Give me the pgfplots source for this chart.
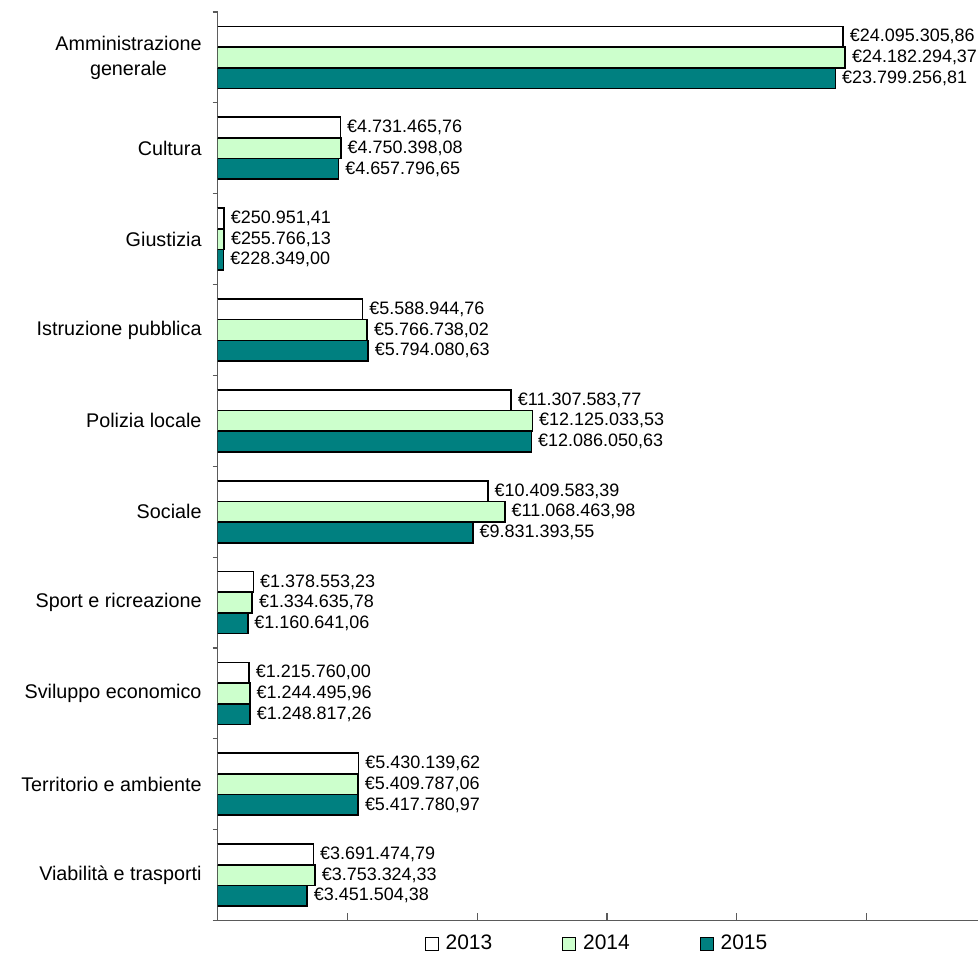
\documentclass[border=0pt]{standalone}
\usepackage{pgfplots}
\usepackage{pgfplotstable}
\usepackage{fontspec}
\setmainfont{Liberation Sans}
\pgfplotsset{compat=1.18}
\definecolor{lgreen}{HTML}{CCFFCC}
\definecolor{tealc}{HTML}{008080}
\definecolor{axgray}{HTML}{5A5A5A}

% y = 9 - category index (Amministrazione generale at top)
\pgfplotstableread{
y x lab
9 24095305.86 24.095.305,86
8 4731465.76 4.731.465,76
7 250951.41 250.951,41
6 5588944.76 5.588.944,76
5 11307583.77 11.307.583,77
4 10409583.39 10.409.583,39
3 1378553.23 1.378.553,23
2 1215760.00 1.215.760,00
1 5430139.62 5.430.139,62
0 3691474.79 3.691.474,79
}\tA
\pgfplotstableread{
y x lab
9 24182294.37 24.182.294,37
8 4750398.08 4.750.398,08
7 255766.13 255.766,13
6 5766738.02 5.766.738,02
5 12125033.53 12.125.033,53
4 11068463.98 11.068.463,98
3 1334635.78 1.334.635,78
2 1244495.96 1.244.495,96
1 5409787.06 5.409.787,06
0 3753324.33 3.753.324,33
}\tB
\pgfplotstableread{
y x lab
9 23799256.81 23.799.256,81
8 4657796.65 4.657.796,65
7 228349.00 228.349,00
6 5794080.63 5.794.080,63
5 12086050.63 12.086.050,63
4 9831393.55 9.831.393,55
3 1160641.06 1.160.641,06
2 1248817.26 1.248.817,26
1 5417780.97 5.417.780,97
0 3451504.38 3.451.504,38
}\tC

\begin{document}
\begin{tikzpicture}
\begin{axis}[
  scale only axis,
  width=381pt, height=455pt,
  xbar=0pt, bar width=10.35pt,
  xmin=0, xmax=29.31e6,
  ymin=-0.5, ymax=9.5,
  axis x line*=bottom, axis y line*=left,
  axis line style={-, draw=axgray, line width=0.6pt},
  xtick={0,5e6,10e6,15e6,20e6,25e6}, xticklabels={},
  scaled x ticks=false,
  ytick={0,...,9},
  minor ytick={-0.5,0.5,...,9.5},
  yticklabels={Viabilità e trasporti, Territorio e ambiente, Sviluppo economico, Sport e ricreazione, Sociale, Polizia locale, Istruzione pubblica, Giustizia, Cultura, {Amministrazione\\generale}},
  yticklabel style={align=center, font=\fontsize{9.9}{12.5}\selectfont, xshift=-0.5pt},
  xtick align=inside, ytick align=outside,
  major tick length=4pt, minor tick length=2.5pt,
  major y tick style={draw=none},
  tick style={draw=axgray, line width=0.6pt},
  point meta=explicit symbolic,
  nodes near coords={€\pgfplotspointmeta},
  nodes near coords style={anchor=west, font=\fontsize{9}{10}\selectfont, inner sep=1.5pt, xshift=1.5pt, text=black},
  legend columns=3,
  reverse legend,
  legend style={at={(0.5,-0.0253)}, anchor=center, draw=none, fill=none,
    font=\fontsize{10.5}{12}\selectfont,
    /tikz/every odd column/.append style={column sep=1.5pt},
    /tikz/every even column/.append style={column sep=33pt}},
  legend image code/.code={\draw[#1, line width=0.5pt] (0pt,-3.25pt) rectangle (6.5pt,3.25pt);},
  every axis plot/.append style={draw=black, line width=0.8pt},
]
\addplot[fill=tealc] table[x=x, y=y, meta=lab] {\tC};
\addplot[fill=lgreen] table[x=x, y=y, meta=lab] {\tB};
\addplot[fill=white] table[x=x, y=y, meta=lab] {\tA};
\legend{2015,2014,2013}
\coordinate (bbA) at (rel axis cs:-0.286,-0.0396);
\coordinate (bbB) at (rel axis cs:1,1.0132);
\end{axis}
\path (bbA) rectangle (bbB);
\end{tikzpicture}
\end{document}
